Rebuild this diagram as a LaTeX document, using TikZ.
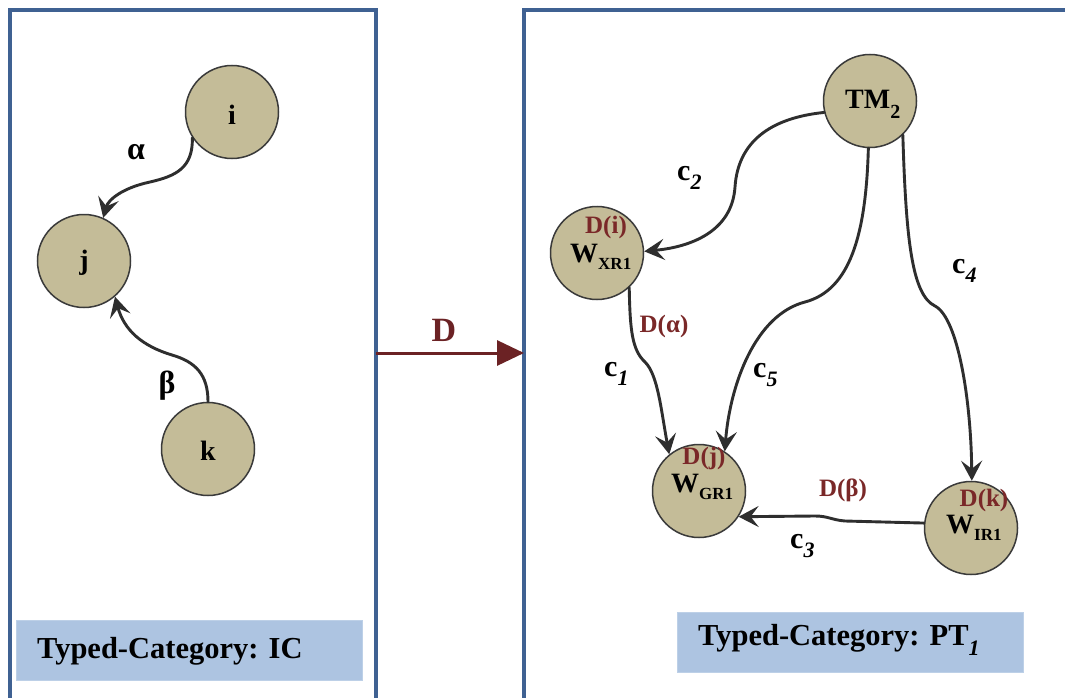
\documentclass[tikz,border=0pt]{standalone}
\usepackage{fontspec}
\setmainfont{Liberation Serif}
\usetikzlibrary{arrows.meta}

\definecolor{framec}{HTML}{3F6192}
\definecolor{tagfill}{HTML}{ADC4E1}
\definecolor{objfill}{HTML}{C4BC98}
\definecolor{objline}{HTML}{3A3A3A}
\definecolor{mapred}{HTML}{7A2828}
\definecolor{arrowred}{HTML}{6B2224}
\definecolor{edgec}{HTML}{2E2E2E}

% lowered subscript in running text
\newcommand\lowsub[3]{\raisebox{-#1pt}{\fontsize{#2}{#2}\selectfont #3}}

\begin{document}
\begin{tikzpicture}[x=1pt,y=-1pt,
  frame/.style={draw=framec, line width=3.4pt},
  tag/.style={fill=tagfill, draw=tagfill!80!white, line width=0.6pt},
  tagtext/.style={anchor=base west, inner sep=0pt, font=\bfseries\fontsize{30.5}{34}\selectfont},
  obj/.style={circle, draw=objline, line width=1.5pt, fill=objfill, minimum size=93pt, inner sep=0pt},
  objtext/.style={inner sep=0pt, font=\bfseries\fontsize{28}{30}\selectfont},
  wtext/.style={anchor=base west, inner sep=0pt, font=\bfseries\fontsize{28}{30}\selectfont},
  dtext/.style={inner sep=0pt, text=mapred, font=\bfseries\fontsize{25}{28}\selectfont},
  ctext/.style={anchor=base west, inner sep=0pt, font=\bfseries\fontsize{30}{32}\selectfont},
  gtext/.style={inner sep=0pt, font=\bfseries\fontsize{32}{34}\selectfont},
  edge/.style={draw=edgec, line width=2.9pt, line cap=round,
    -{Stealth[length=20pt,width=21pt,inset=8pt]}},
  functor/.style={draw=arrowred, line width=3pt,
    -{Triangle[length=27pt,width=25pt]}}
]
\useasboundingbox (0,0) rectangle (1065,698);
\clip (0,0) rectangle (1065,698);
\fill[white] (0,0) rectangle (1065,698);

% category frames
\draw[frame] (10,10) rectangle (376,720);
\draw[frame] (524,10) rectangle (1090,720);

% title tags
\fill[tag] (16,620) rectangle (362,680);
\node[tagtext] (tagIC) at (37,658) {Typed-Category: IC};
\fill[tag] (677,612) rectangle (1023,672);
\node[tagtext] (tagPT) at (698,645) {Typed-Category: PT\lowsub{10}{22}{\itshape 1}};

% objects of IC
\node[obj] (i) at (232,112) {};
\node[obj] (j) at (84,261) {};
\node[obj] (k) at (208,449) {};
\node[objtext] (ilab) at (232,115) {i};
\node[objtext] (jlab) at (84,263) {j};
\node[objtext] (klab) at (208,451) {k};

% objects of PT1
\node[obj] (TM) at (870,101) {};
\node[obj] (WX) at (597,253) {};
\node[obj] (WG) at (699,491) {};
\node[obj] (WI) at (971,528) {};
\node[wtext] (TMlab) at (845,109) {TM\lowsub{10}{20}{2}};
\node[dtext] (DWX) at (606,227) {D(i)};
\node[wtext] (WXlab) at (570,262) {W\lowsub{7}{17}{XR1}};
\node[dtext] (DWG) at (704,458) {D(j)};
\node[wtext] (WGlab) at (671,492) {W\lowsub{7}{17}{GR1}};
\node[dtext] (DWI) at (984,500) {D(k)};
\node[wtext] (WIlab) at (946,533) {W\lowsub{7}{17}{IR1}};

% morphisms of IC
\draw[edge] (i.213) .. controls (193,168) and (176,176) .. (150,182)
            .. controls (122,188) and (108,200) .. (j.66);
\draw[edge] (k.90) .. controls (208,375) and (196,362) .. (172,355)
            .. controls (142,346) and (124,330) .. (j.311);
\node[gtext] (alpha) at (136,152) {α};
\node[gtext] (beta) at (167,386) {β};

% functor D
\coordinate (Dfrom) at (376,353);
\coordinate (Dto) at (524,353);
\draw[functor] (Dfrom) -- (Dto);
\node[inner sep=0pt, text=arrowred, font=\bfseries\fontsize{34}{38}\selectfont] (Dlab) at (444,330) {D};

% morphisms of PT1
\draw[edge] (TM.194) .. controls (770,118) and (738,142) .. (735,187)
            .. controls (732,232) and (690,247) .. (WX.2);
\draw[edge] (WX.313) .. controls (630,330) and (632,350) .. (645,362)
            .. controls (658,375) and (661,410) .. (WG.129);
\draw[edge] (TM.268) .. controls (866,235) and (850,290) .. (805,302)
            .. controls (755,315) and (730,385) .. (WG.57);
\draw[edge] (TM.314) .. controls (906,240) and (912,295) .. (935,306)
            .. controls (958,318) and (971,400) .. (WI.89);
\draw[edge] (WI.174) -- (845,521) .. controls (832,520) and (828,516) .. (815,516)
            -- (WG.327);

% morphism labels
\node[ctext] (c2) at (677,180) {c\lowsub{9}{22}{\itshape 2}};
\node[ctext] (c1) at (604,376) {c\lowsub{9}{22}{\itshape 1}};
\node[ctext] (c5) at (753,377) {c\lowsub{9}{22}{\itshape 5}};
\node[ctext] (c4) at (952,273) {c\lowsub{9}{22}{\itshape 4}};
\node[ctext] (c3) at (790,548) {c\lowsub{9}{22}{\itshape 3}};
\node[dtext] (Dalpha) at (664,326) {D(α)};
\node[dtext] (Dbeta) at (843,490) {D(β)};
\end{tikzpicture}
\end{document}
